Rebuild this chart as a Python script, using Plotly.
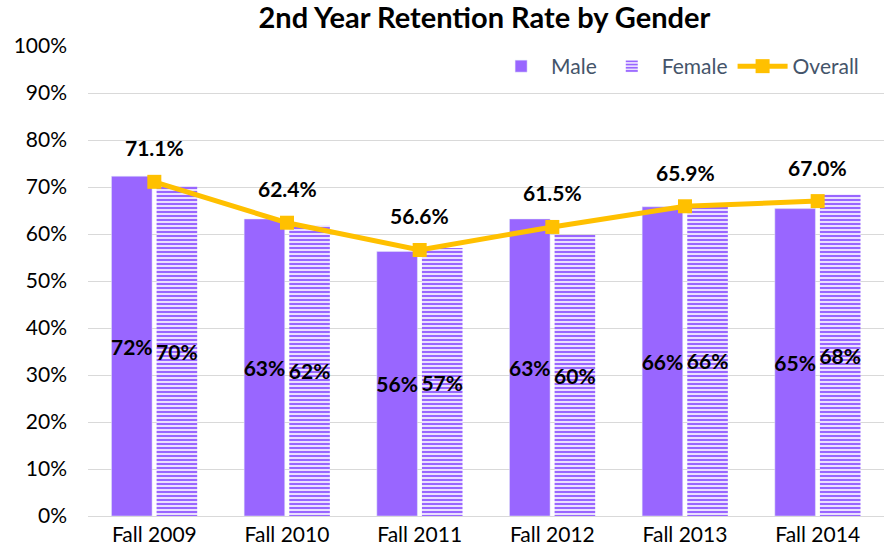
import plotly.graph_objects as go

categories = ["Fall 2009", "Fall 2010", "Fall 2011", "Fall 2012", "Fall 2013", "Fall 2014"]
male = [72.3, 63.2, 56.3, 63.2, 65.8, 65.4]
female = [70.2, 61.8, 57.0, 59.8, 66.0, 68.4]
male_labels = ["72%", "63%", "56%", "63%", "66%", "65%"]
female_labels = ["70%", "62%", "57%", "60%", "66%", "68%"]
overall = [71.1, 62.4, 56.6, 61.5, 65.9, 67.0]
overall_labels = ["71.1%", "62.4%", "56.6%", "61.5%", "65.9%", "67.0%"]
y_ticks = [0, 10, 20, 30, 40, 50, 60, 70, 80, 90, 100]
y_tick_labels = [f"{v}%" for v in y_ticks]

FONT = "Lato"
PURPLE = "#9966FF"
GOLD = "#FFC000"

fig = go.Figure()
fig.add_trace(go.Bar(
    name="Male", x=categories, y=male, marker_color=PURPLE,
    text=male_labels, textposition="inside", insidetextanchor="middle",
    textfont=dict(family=FONT, size=21, color="black", weight="bold"),
    textangle=0, cliponaxis=False,
))
fig.add_trace(go.Bar(
    name="Female", x=categories, y=female,
    marker=dict(color="white", line=dict(color="white", width=0),
                pattern=dict(shape="-", fgcolor=PURPLE, bgcolor="white", size=4,
                             solidity=0.6, fgopacity=1)),
    text=female_labels, textposition="inside", insidetextanchor="middle",
    textfont=dict(family=FONT, size=21, color="black", weight="bold"),
    textangle=0, cliponaxis=False,
))
fig.add_trace(go.Scatter(
    name="Overall", x=categories, y=overall, mode="lines+markers",
    line=dict(color=GOLD, width=5),
    marker=dict(symbol="square", size=14, color=GOLD),
))
for c, v, t in zip(categories, overall, overall_labels):
    fig.add_annotation(x=c, y=v, text=t, showarrow=False, yshift=34,
                       font=dict(family=FONT, size=21, color="black", weight="bold"))

fig.update_layout(
    width=884, height=559,
    margin=dict(l=88, r=0, t=46, b=43),
    paper_bgcolor="white", plot_bgcolor="white",
    title=dict(text="<b>2nd Year Retention Rate by Gender</b>", x=0.548, xanchor="center",
               y=0.968, yanchor="middle", font=dict(family=FONT, size=29, color="black")),
    barmode="group", bargap=0.32, bargroupgap=0.1,
    uniformtext=dict(minsize=21, mode="show"),
    legend=dict(orientation="h", x=0.975, xanchor="right", y=1.0, yanchor="top",
                font=dict(family=FONT, size=21, color="#44546A"), bgcolor="rgba(0,0,0,0)",
                traceorder="normal", itemwidth=50),
    showlegend=True,
)
fig.update_yaxes(range=[0, 100], tickvals=y_ticks, ticktext=y_tick_labels,
                 showgrid=True, gridcolor="#D9D9D9", gridwidth=1, zeroline=False,
                 tickfont=dict(family=FONT, size=21, color="black"), ticks="", showline=False,
                 ticklabelstandoff=20)
fig.update_xaxes(tickfont=dict(family=FONT, size=21, color="black"), showline=True,
                 linecolor="#D9D9D9", ticks="")

fig.write_html("out.html", config={"displayModeBar": False},
               post_script="document.body.style.margin='0';")
